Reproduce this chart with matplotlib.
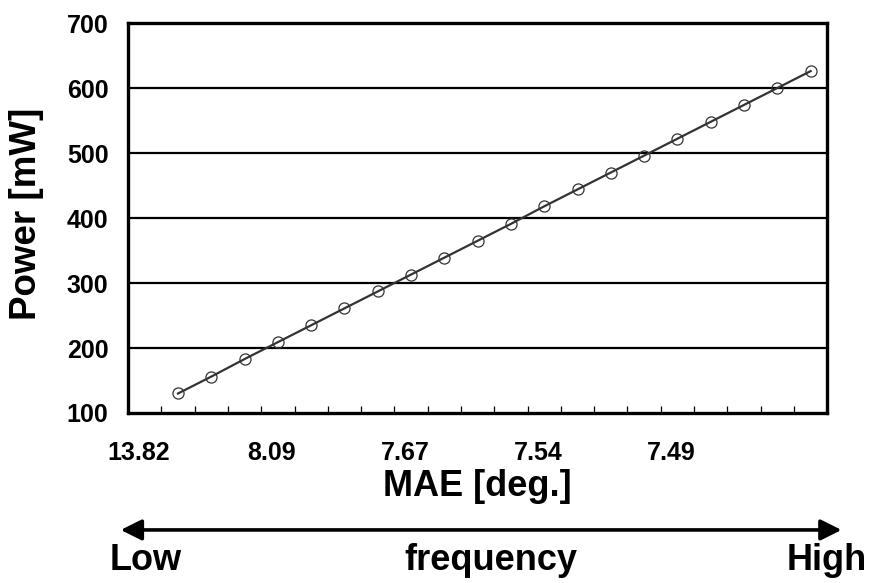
import numpy as np
import matplotlib
matplotlib.use('Agg')
import matplotlib.pyplot as plt

plt.rcParams['font.family'] = ['Liberation Sans', 'DejaVu Sans']
plt.rcParams['font.weight'] = 'bold'

# data
power = [130, 156, 183, 209, 235, 261, 287, 313, 339, 365,
         391, 418, 444, 470, 496, 522, 548, 574, 600, 626]
mae_labels = ['13.82', '8.09', '7.67', '7.54', '7.49']
y_ticks = [100, 200, 300, 400, 500, 600, 700]

x = np.arange(1, len(power) + 1)

fig = plt.figure(figsize=(8.74, 5.83), dpi=100)
ax = fig.add_axes([0.1465, 0.2916, 0.8, 0.6689])

for yv in y_ticks[1:-1]:
    ax.axhline(yv, color='black', lw=1.6, zorder=1)

ax.plot(x, power, color='#333333', lw=1.6, marker='o', markersize=8,
        markerfacecolor='none', markeredgecolor='#333333', markeredgewidth=0.9,
        zorder=3)

ax.set_xlim(-0.5, len(power) + 0.5)
ax.set_ylim(100, 700)
ax.set_yticks(y_ticks)
ax.set_yticklabels([str(v) for v in y_ticks], fontsize=18, fontweight='bold')
ax.tick_params(axis='y', length=0, pad=14)

# category boundaries as small inward ticks
ax.set_xticks(np.arange(0.5, len(power), 1.0), minor=True)
ax.tick_params(axis='x', which='minor', direction='in', length=5, width=0.9)
ax.set_xticks(np.arange(len(mae_labels)) * 4 - 0.18)
ax.set_xticklabels(mae_labels, fontsize=18, fontweight='bold')
ax.tick_params(axis='x', which='major', length=0, pad=20)

for s in ax.spines.values():
    s.set_linewidth(2.4)
    s.set_color('black')

ax.set_xlabel('MAE [deg.]', fontsize=26, fontweight='bold', labelpad=3)
ax.set_ylabel('Power [mW]', fontsize=26.5, fontweight='bold', labelpad=14)
ax.yaxis.set_label_coords(-0.12, 0.51)

# frequency arrow below the chart
fig.add_artist(matplotlib.patches.FancyArrowPatch(
    (0.135, 0.091), (0.966, 0.091), transform=fig.transFigure,
    arrowstyle='<|-|>,head_length=0.9,head_width=0.45', mutation_scale=14,
    lw=2.6, color='black'))
fig.text(0.126, 0.039, 'Low', fontsize=26, fontweight='bold', ha='left', va='center')
fig.text(0.562, 0.039, 'frequency', fontsize=26, fontweight='bold', ha='center', va='center')
fig.text(0.992, 0.039, 'High', fontsize=26, fontweight='bold', ha='right', va='center')

fig.savefig('out.png', dpi=100)
